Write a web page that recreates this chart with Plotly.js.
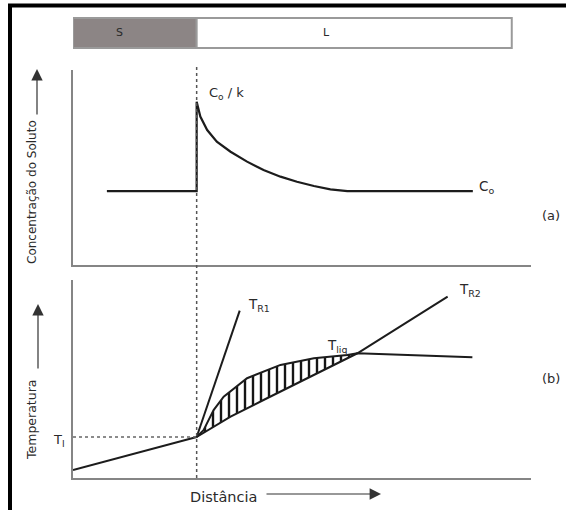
<!DOCTYPE html>
<html>
<head>
<meta charset="utf-8">
<script src="https://cdn.plot.ly/plotly-3.0.1.min.js"></script>
<style>html,body{margin:0;padding:0;background:#fff;}#chart{width:566px;height:510px;}</style>
</head>
<body>
<div id="chart"></div>
<script>
// ---- Data (arbitrary units) ----
// Phase bar (S = solid, L = liquid)
const phaseNames  = ['S', 'L'];
const phaseStarts = [0, 27];
const phaseEnds   = [27, 95.8];
const phaseColors = ['#8c8585', '#ffffff'];

// (a) Solute concentration profile
const concX = [7.4, 27, 27, 27.8, 29.3, 31.4, 34.4, 38.0, 41.6, 45.3, 48.9, 52.6, 56.2, 59.9, 87.3];
const concY = [37.9, 37.9, 83.7, 76.1, 69.2, 63.2, 58.1, 53.0, 48.7, 45.3, 42.7, 40.5, 38.8, 37.9, 37.9];

// (b) Temperatures
const tempX = [0, 27];            // actual temperature in the solid, up to the interface
const tempY = [4.0, 20.7];
const tr1X = [27, 36.4];          // T_R1 gradient
const tr1Y = [20.7, 84.5];
const tr2X = [27, 34.4, 41.6, 48.9, 56.2, 62.1, 81.8];   // T_R2 gradient
const tr2Y = [20.7, 31.0, 39.4, 47.8, 56.2, 63.0, 91.6];
const liqX = [27, 28.5, 30.7, 32.9, 38.0, 45.3, 52.6, 59.9, 62.1, 87.2]; // liquidus T_liq
const liqY = [20.7, 24.2, 34.3, 41.1, 50.4, 57.1, 60.5, 62.1, 63.0, 61.0];
const hatchEndTr2 = 6;   // number of T_R2 points up to T_liq crossing
const hatchEndLiq = 9;   // number of liquidus points up to the crossing

const interfaceX = phaseStarts[1];
const tI = tempY[1];

// ---- Styling ----
const W = 566, H = 510;
const px = v => v / W, py = v => 1 - v / H;
const FONT = 'DejaVu Sans';
const TXT = '#2a2a2a';
const CURVE = '#1c1c1c';
const AXC = '#858585';
const xDom = [px(73), px(531)];

const traces = [];
phaseNames.forEach((n, i) => {
  traces.push({
    type: 'bar', orientation: 'h', xaxis: 'x3', yaxis: 'y3',
    y: [0], x: [phaseEnds[i] - phaseStarts[i]], base: [phaseStarts[i]], width: [1],
    marker: {color: phaseColors[i], line: {color: '#9a9a9a', width: 2}},
    hoverinfo: 'skip', name: n
  });
});
traces.push({x: concX, y: concY, xaxis: 'x', yaxis: 'y', mode: 'lines',
  line: {color: CURVE, width: 2.2}, hoverinfo: 'skip'});
// hatched undercooled zone
traces.push({x: tr2X.slice(0, hatchEndTr2), y: tr2Y.slice(0, hatchEndTr2), xaxis: 'x2', yaxis: 'y2',
  mode: 'lines', line: {width: 0, color: 'rgba(0,0,0,0)'}, hoverinfo: 'skip'});
traces.push({x: liqX.slice(0, hatchEndLiq), y: liqY.slice(0, hatchEndLiq), xaxis: 'x2', yaxis: 'y2',
  mode: 'lines', line: {width: 0, color: 'rgba(0,0,0,0)'}, fill: 'tonexty',
  fillcolor: 'rgba(0,0,0,0)',
  fillpattern: {shape: '|', size: 8, solidity: 0.3, fgcolor: '#151515', bgcolor: 'rgba(0,0,0,0)'},
  hoverinfo: 'skip'});
[[tempX, tempY], [tr1X, tr1Y], [tr2X, tr2Y], [liqX, liqY]].forEach(([xs, ys]) => {
  traces.push({x: xs, y: ys, xaxis: 'x2', yaxis: 'y2', mode: 'lines',
    line: {color: CURVE, width: 2}, hoverinfo: 'skip'});
});

const hiddenAx = {showgrid: false, zeroline: false, showticklabels: false, ticks: '', showline: false, fixedrange: true};
const lineAx = {showgrid: false, zeroline: false, showticklabels: false, ticks: '', showline: true,
  linecolor: AXC, linewidth: 2, fixedrange: true};

const ann = (text, x, y, size, extra) => Object.assign({text, x, y, xref: 'paper', yref: 'paper',
  xanchor: 'center', yanchor: 'middle', showarrow: false,
  font: {family: FONT, size: size, color: TXT}}, extra || {});
const arrow = (x, y, ax, ay) => ({text: '', x: px(x), y: py(y), xref: 'paper', yref: 'paper',
  showarrow: true, ax, ay, arrowhead: 2, arrowsize: 1.9, arrowwidth: 1.2, arrowcolor: '#333'});

const layout = {
  width: W, height: H, margin: {l: 0, r: 0, t: 0, b: 0},
  paper_bgcolor: '#fff', plot_bgcolor: 'rgba(0,0,0,0)', showlegend: false,
  barmode: 'overlay',
  xaxis:  Object.assign({domain: xDom, range: [0, 100], anchor: 'y'}, lineAx),
  yaxis:  Object.assign({domain: [py(265), py(70)], range: [0, 100], anchor: 'x'}, lineAx),
  xaxis2: Object.assign({domain: xDom, range: [0, 100], anchor: 'y2'}, lineAx),
  yaxis2: Object.assign({domain: [py(478), py(280)], range: [0, 100], anchor: 'x2'}, lineAx),
  xaxis3: Object.assign({domain: xDom, range: [0, 100], anchor: 'y3'}, hiddenAx),
  yaxis3: Object.assign({domain: [py(49.5), py(16.5)], range: [-0.55, 0.55], anchor: 'x3'}, hiddenAx),
  shapes: [
    {type: 'line', xref: 'x2', yref: 'paper', x0: interfaceX, x1: interfaceX, y0: py(478), y1: py(67),
      line: {color: '#555', width: 1.5, dash: 'dot'}},
    {type: 'line', xref: 'x2', yref: 'y2', x0: 0, x1: interfaceX, y0: tI, y1: tI,
      line: {color: '#666', width: 1.5, dash: 'dot'}},
    {type: 'rect', xref: 'paper', yref: 'paper', x0: px(10), x1: 1.1, y0: -0.1, y1: py(5.5),
      line: {color: '#000', width: 4}}
  ],
  annotations: [
    ann(phaseNames[0], px(119), py(33), 11),
    ann(phaseNames[1], px(326), py(33), 11),
    ann('C<sub>o</sub> / k', 29.2, 88.0, 13, {xref: 'x', yref: 'y', xanchor: 'left'}),
    ann('C<sub>o</sub>', 88.3, 40.0, 13.5, {xref: 'x', yref: 'y', xanchor: 'left'}),
    ann('(a)', px(551), py(215), 13),
    ann('(b)', px(551), py(378), 13),
    ann('T<sub>R1</sub>', 37.8, 87.5, 13.5, {xref: 'x2', yref: 'y2', xanchor: 'left'}),
    ann('T<sub>R2</sub>', 83.9, 95.0, 13.5, {xref: 'x2', yref: 'y2', xanchor: 'left'}),
    ann('T<sub>liq</sub>', 55.0, 66.5, 13.5, {xref: 'x2', yref: 'y2', xanchor: 'left'}),
    ann('T<sub>I</sub>', px(67), py(440), 13, {xanchor: 'right'}),
    ann('Concentração do Soluto', px(32), py(192), 12, {textangle: -90}),
    ann('Temperatura', px(31), py(420), 12.5, {textangle: -90}),
    ann('Distância', px(223), py(497), 14.5),
    arrow(37, 69, 0, 47),
    arrow(38, 304, 0, 66),
    arrow(381, 494, -116, 0)
  ]
};

Plotly.newPlot('chart', traces, layout, {staticPlot: true, displayModeBar: false});
</script>
</body>
</html>
